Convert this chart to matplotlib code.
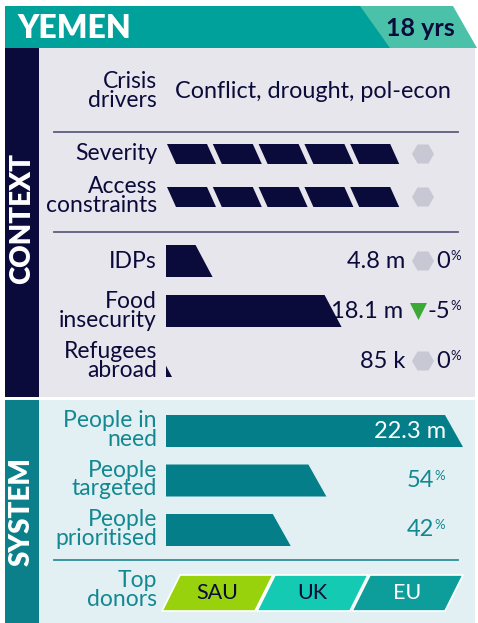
import numpy as np
import matplotlib
matplotlib.use("Agg")
import matplotlib.pyplot as plt
from matplotlib.patches import Polygon, RegularPolygon, Rectangle

# ---- data ----
country = "YEMEN"
years = "18 yrs"
drivers = "Conflict, drought, pol-econ"

rating_labels = ["Severity", "Access\nconstraints"]
rating_values = [5, 5]          # out of 5

context_labels = ["IDPs", "Food\ninsecurity", "Refugees\nabroad"]
context_values = [4.8, 18.1, 0.085]      # millions
context_texts = ["4.8 m", "18.1 m", "85 k"]
context_change = [0, -5, 0]              # % change

system_labels = ["People in\nneed", "People\ntargeted", "People\nprioritised"]
system_pct = [100, 54, 42]
system_texts = ["22.3 m", "54", "42"]

donors = ["SAU", "UK", "EU"]

# ---- style ----
NAVY = "#0b0b3b"
TEAL_HEAD = "#00a09b"
TEAL_LIGHT = "#4cc1a9"
CTX_BG = "#e7e6ec"
SYS_BG = "#e2f0f3"
SYS_BAND = "#0b7f8a"
SYS_BAR = "#047f8a"
SYS_TXT = "#138891"
HEX_GREY = "#c8c8d5"
GREEN = "#3aa935"
DONOR_COLS = ["#97d20c", "#15cab3", "#0d9e9b"]
DONOR_TXT = [NAVY, NAVY, "white"]

plt.rcParams['font.family'] = ['Lato', 'DejaVu Sans']

fig = plt.figure(figsize=(4.78, 6.23), dpi=100)
ax = fig.add_axes([0, 0, 1, 1])
ax.set_xlim(0, 478)
ax.set_ylim(623, 0)
ax.axis('off')

# header
ax.add_patch(Rectangle((5, 6), 390, 42, color=TEAL_HEAD, lw=0))
ax.add_patch(Polygon([(360, 6), (453, 6), (477, 48), (390, 48)], color=TEAL_LIGHT, lw=0))
ax.text(17, 28, country, color="white", fontsize=23, fontweight="heavy", va="center", ha="left")
ax.text(455, 28, years, color=NAVY, fontsize=18, fontweight="bold", va="center", ha="right")

# section backgrounds
ax.add_patch(Rectangle((5, 48), 34, 349, color=NAVY, lw=0))
ax.add_patch(Rectangle((39, 48), 436, 349, color=CTX_BG, lw=0))
ax.add_patch(Rectangle((5, 400), 34, 223, color=SYS_BAND, lw=0))
ax.add_patch(Rectangle((39, 400), 436, 223, color=SYS_BG, lw=0))
ax.text(22, 218, "CONTEXT", color="white", fontsize=20, fontweight="heavy",
        rotation=90, ha="center", va="center")
ax.text(22, 512, "SYSTEM", color="white", fontsize=20, fontweight="heavy",
        rotation=90, ha="center", va="center")

LX = 157    # right edge of row labels
BX = 166    # left edge of bars
lab = dict(fontsize=16.5, ha="right", va="center", linespacing=0.86)

# crisis drivers
ax.text(LX, 91, "Crisis\ndrivers", color=NAVY, **lab)
ax.text(175, 92, drivers, color=NAVY, fontsize=16.8, ha="left", va="center")
ax.plot([54, 458], [132, 132], color="#5c5c80", lw=1.3)

def hexagon(x, y, col):
    ax.add_patch(RegularPolygon((x, y), 6, radius=11, orientation=np.pi / 6,
                                color=col, lw=0))

# severity / access
for i, (name, val) in enumerate(zip(rating_labels, rating_values)):
    yc = 154 + i * 43
    ax.text(LX, yc if i == 0 else yc - 1, name, color=NAVY, **lab)
    for k in range(val):
        x0 = 167 + k * 45.8
        ax.add_patch(Polygon([(x0, yc - 10), (x0 + 40, yc - 10),
                              (x0 + 49, yc + 10), (x0 + 9, yc + 10)],
                             color=NAVY, lw=0))
    hexagon(423, yc, HEX_GREY)
ax.plot([54, 458], [232, 232], color="#5c5c80", lw=1.3)

def bar(y_top, h, width, slant, col):
    # bar with slanted right edge; tiny bars become a triangle
    if width >= slant:
        pts = [(BX, y_top), (BX + width - slant, y_top),
               (BX + width, y_top + h), (BX, y_top + h)]
    else:
        pts = [(BX, y_top + h - h * width / slant), (BX + width, y_top + h), (BX, y_top + h)]
    ax.add_patch(Polygon(pts, color=col, lw=0))

def pct_text(x_right, y, num, col, size=17):
    ax.text(x_right, y, num, color=col, fontsize=size, ha="right", va="center")
    ax.text(x_right, y - 5, "%", color=col, fontsize=9.5, ha="left", va="center")

# context bars
ctx_scale = 9.7
for i, (name, v, txt, ch) in enumerate(zip(context_labels, context_values,
                                            context_texts, context_change)):
    yc = 261 + i * 50
    ax.text(LX, yc, name, color=NAVY, **lab)
    bar(yc - 16, 32, max(v * ctx_scale, 6), 17, NAVY)
    ax.text(405 if ch == 0 else 403, yc, txt, color=NAVY, fontsize=17, ha="right", va="center")
    if ch == 0:
        hexagon(423, yc, HEX_GREY)
    else:
        ax.add_patch(Polygon([(410, yc - 8), (427, yc - 8), (418.5, yc + 9)],
                             color=GREEN if ch < 0 else "#d9352b", lw=0))
    pct_text(450, yc, f"{ch}", NAVY)

# system bars
sys_scale = 297 / 100
for i, (name, p, txt) in enumerate(zip(system_labels, system_pct, system_texts)):
    yc = 431 + i * 49.5
    ax.text(LX, yc - 1, name, color=SYS_TXT, **lab)
    bar(yc - 16, 32, p * sys_scale, 18, SYS_BAR)
    if i == 0:
        ax.text(446, yc + 1, txt, color="white", fontsize=17, ha="right", va="center")
    else:
        pct_text(434, yc, txt, SYS_TXT)
ax.plot([54, 458], [560, 560], color="#2d8f9a", lw=1.3)

# top donors
ax.text(LX, 590, "Top\ndonors", color=SYS_TXT, **lab)
for k, (d, c, tc) in enumerate(zip(donors, DONOR_COLS, DONOR_TXT)):
    x0 = 162 + k * 95
    ax.add_patch(Polygon([(x0, 611), (x0 + 18, 575), (x0 + 111, 575), (x0 + 93, 611)],
                         facecolor=c, edgecolor="white", lw=1.2))
    ax.text(x0 + 55.5, 593, d, color=tc, fontsize=15.5, ha="center", va="center")

fig.savefig("out.png", dpi=100)
